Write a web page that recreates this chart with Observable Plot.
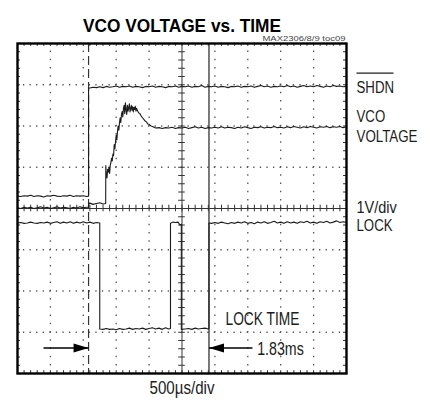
<!DOCTYPE html>
<html>
<head>
<meta charset="utf-8">
<script src="https://cdn.jsdelivr.net/npm/d3@7"></script>
<script src="https://cdn.jsdelivr.net/npm/@observablehq/plot@0.6"></script>
<style>
  html, body { margin: 0; padding: 0; background: white; }
  svg { display: block; }
</style>
</head>
<body>
<div id="chart"></div>
<script>
// ---- Scope settings (time in ms, 0.5 ms/div; 1 V/div) ----
const timeDomain = [0, 5];
const voltDomain = [-4, 4];
const majorX = [0.5, 1, 1.5, 2, 3, 3.5, 4, 4.5];
const majorY = [-3, -2, -1, 1, 2, 3];
const centerX = [2.5];
const centerY = [0];

// ---- Traces: [time ms, volts] ----
const shdnTrace = [[0,.30],[.05,.29],[.10,.31],[.15,.30],[.20,.32],[.25,.29],[.30,.31],[.35,.30],[.40,.28],[.45,.31],[.50,.30],[.55,.32],[.60,.30],[.65,.29],[.70,.31],[.75,.30],[.80,.32],[.85,.29],[.90,.31],[.95,.30],[1.00,.31],[1.05,.29],[1.08,.30],
[1.08,2.92],[1.10,2.92],[1.15,2.94],[1.20,2.93],[1.25,2.95],[1.30,2.93],[1.35,2.96],[1.40,2.94],[1.45,2.95],[1.50,2.97],[1.55,2.94],[1.60,2.96],[1.65,2.95],[1.70,2.97],[1.75,2.94],[1.80,2.96],[1.85,2.95],[1.90,2.93],[1.95,2.96],[2.00,2.95],[2.05,2.97],[2.10,2.94],[2.15,2.96],[2.20,2.95],[2.25,2.93],[2.30,2.96],[2.35,2.95],[2.40,2.97],[2.45,2.94],[2.50,2.96],[2.55,2.95],[2.60,2.97],[2.65,2.94],[2.70,2.96],[2.75,2.95],[2.80,2.98],[2.85,2.94],[2.90,2.96],[2.95,2.95],[3.00,2.97],[3.05,2.94],[3.10,2.96],[3.15,2.95],[3.20,2.93],[3.25,2.96],[3.30,2.95],[3.35,2.97],[3.40,2.94],[3.45,2.96],[3.50,2.95],[3.55,2.97],[3.60,2.94],[3.65,2.96],[3.70,2.98],[3.75,2.95],[3.80,2.97],[3.85,2.94],[3.90,2.96],[3.95,2.95],[4.00,2.97],[4.05,2.95],[4.10,2.98],[4.15,2.95],[4.20,2.97],[4.25,2.94],[4.30,2.96],[4.35,2.98],[4.40,2.95],[4.45,2.97],[4.50,2.95],[4.55,2.98],[4.60,2.96],[4.65,2.94],[4.70,2.97],[4.75,2.95],[4.80,2.98],[4.85,2.96],[4.90,2.97],[4.95,2.95],[5.00,2.96]];

const vcoTrace = [[0,.02],[.05,.00],[.10,.03],[.15,.01],[.20,.03],[.25,.00],[.30,.02],[.35,.04],[.40,.01],[.45,.03],[.50,.00],[.55,.02],[.60,.04],[.65,.01],[.70,.03],[.75,.02],[.80,.00],[.85,.03],[.90,.01],[.95,.04],[1.00,.02],[1.05,.03],[1.08,.03],
[1.08,.12],[1.10,.13],[1.15,.10],[1.20,.12],[1.25,.14],[1.30,.11],[1.34,.12],
[1.342,1.04],[1.35,.80],[1.36,.74],[1.37,.95],[1.38,.88],[1.39,1.00],[1.40,.85],[1.41,1.05],[1.42,1.12],[1.43,1.22],[1.44,1.15],[1.45,1.32],[1.46,1.28],[1.47,1.55],[1.48,1.45],[1.49,1.62],[1.50,1.78],[1.51,1.66],[1.52,1.88],[1.53,2.00],[1.54,1.90],[1.55,2.08],[1.56,2.20],[1.57,2.08],[1.58,2.28],[1.59,2.35],[1.60,2.22],[1.61,2.42],[1.62,2.50],[1.63,2.30],[1.64,2.56],[1.65,2.40],[1.66,2.28],[1.67,2.50],[1.68,2.36],[1.69,2.44],[1.70,2.54],[1.71,2.34],[1.72,2.42],[1.73,2.50],[1.74,2.38],[1.75,2.47],[1.76,2.34],[1.77,2.45],[1.78,2.40],[1.79,2.48],[1.80,2.36],[1.81,2.43],[1.82,2.38],[1.84,2.32],[1.86,2.30],[1.88,2.24],[1.90,2.20],[1.92,2.16],[1.94,2.12],[1.96,2.10],[1.98,2.05],[2.00,2.04],[2.03,2.00],[2.06,1.98],[2.10,1.95],[2.15,1.96],[2.20,1.94],[2.25,1.96],
[2.30,1.95],[2.35,1.97],[2.40,1.94],[2.45,1.96],[2.50,1.95],[2.55,1.97],[2.60,1.94],[2.65,1.96],[2.70,1.98],[2.75,1.95],[2.80,1.97],[2.85,1.94],[2.90,1.96],[2.95,1.95],[3.00,1.97],[3.05,1.95],[3.10,1.98],[3.15,1.95],[3.20,1.97],[3.25,1.96],[3.30,1.94],[3.35,1.97],[3.40,1.95],[3.45,1.98],[3.50,1.96],[3.55,1.94],[3.60,1.97],[3.65,1.96],[3.70,1.98],[3.75,1.95],[3.80,1.97],[3.85,1.96],[3.90,1.99],[3.95,1.96],[4.00,1.97],[4.05,1.95],[4.10,1.98],[4.15,1.96],[4.20,1.99],[4.25,1.97],[4.30,1.95],[4.35,1.98],[4.40,1.96],[4.45,1.99],[4.50,1.97],[4.55,1.95],[4.60,1.98],[4.65,1.97],[4.70,1.99],[4.75,1.96],[4.80,1.98],[4.85,1.97],[4.90,1.99],[4.95,1.96],[5.00,1.98]];

const lockTrace = [[0,-.35],[.05,-.34],[.10,-.36],[.15,-.35],[.20,-.33],[.25,-.35],[.30,-.36],[.35,-.34],[.40,-.35],[.45,-.33],[.50,-.36],[.55,-.34],[.60,-.32],[.65,-.36],[.70,-.33],[.75,-.35],[.80,-.32],[.85,-.36],[.90,-.33],[.95,-.35],[1.00,-.32],[1.05,-.35],[1.10,-.33],[1.15,-.36],[1.20,-.34],[1.25,-.35],
[1.25,-2.92],[1.30,-2.93],[1.35,-2.91],[1.40,-2.93],[1.45,-2.92],[1.50,-2.94],[1.55,-2.91],[1.60,-2.93],[1.65,-2.92],[1.70,-2.90],[1.75,-2.93],[1.80,-2.91],[1.85,-2.92],[1.90,-2.90],[1.95,-2.93],[2.00,-2.91],[2.05,-2.89],[2.10,-2.92],[2.15,-2.90],[2.20,-2.93],[2.25,-2.89],[2.30,-2.92],[2.325,-2.91],
[2.325,-.36],[2.36,-.33],[2.40,-.34],[2.44,-.33],[2.47,-.40],[2.49,-.38],
[2.49,-2.93],[2.55,-2.92],[2.60,-2.91],[2.65,-2.93],[2.70,-2.90],[2.75,-2.92],[2.80,-2.91],[2.85,-2.90],[2.90,-2.92],[2.91,-2.91],
[2.91,-.35],[2.95,-.36],[3.00,-.34],[3.05,-.36],[3.10,-.33],[3.15,-.35],[3.20,-.37],[3.25,-.34],[3.30,-.36],[3.35,-.33],[3.40,-.35],[3.45,-.32],[3.50,-.36],[3.55,-.34],[3.60,-.37],[3.65,-.33],[3.70,-.35],[3.75,-.32],[3.80,-.36],[3.85,-.34],[3.90,-.31],[3.95,-.35],[4.00,-.33],[4.05,-.36],[4.10,-.32],[4.15,-.35],[4.20,-.33],[4.25,-.36],[4.30,-.32],[4.35,-.34],[4.40,-.31],[4.45,-.35],[4.50,-.33],[4.55,-.36],[4.60,-.32],[4.65,-.34],[4.70,-.31],[4.75,-.35],[4.80,-.33],[4.85,-.30],[4.90,-.34],[4.95,-.32],[5.00,-.34]];

// ---- Cursors and annotation ----
const lockStart = 1.08;   // dashed cursor (ms)
const lockEnd = 2.91;     // solid cursor (ms) -> 1.83 ms
const arrowLevel = -3.38;
const arrowTails = [0.395, 3.571];
const traceLabels = [
  {text: "SHDN", v: 2.96},
  {text: "VCO\nVOLTAGE", v: 2.0},
  {text: "1V/div", v: 0.05},
  {text: "LOCK", v: -0.38}
];
const titleText = "VCO VOLTAGE vs. TIME";
const codeText = "MAX2306/8/9 toc09";
const xLabelText = "500µs/div";
const lockTimeText = "LOCK TIME";
const lockTimeValue = "1.83ms";

// condensed (Helvetica Narrow-like) text widths, px
const textWidths = {
  "VCO VOLTAGE vs. TIME": 198, "MAX2306/8/9 toc09": 83, "SHDN": 37.6, "VCO": 28.7,
  "VOLTAGE": 61, "1V/div": 40.3, "LOCK": 36, "LOCK TIME": 74, "1.83ms": 46.6, "500µs/div": 65
};

// graticule minor ticks (1/5 division)
const minorX = d3.range(0, 5.0001, 0.1);
const minorY = d3.range(-4, 4.0001, 0.2);

const headRight = {draw(c) { c.moveTo(0, 0); c.lineTo(-15, -4.5); c.lineTo(-15, 4.5); c.closePath(); }};
const headLeft  = {draw(c) { c.moveTo(0, 0); c.lineTo(15, -4.5); c.lineTo(15, 4.5); c.closePath(); }};

const font = '"Liberation Sans Narrow", "Liberation Sans", Arial, sans-serif';
const ink = "#1c1c1c";
const gridInk = "#555";

const chart = Plot.plot({
  width: 430,
  height: 404,
  marginTop: 43,
  marginLeft: 17,
  marginRight: 84,
  marginBottom: 31,
  x: {domain: timeDomain, axis: null},
  y: {domain: voltDomain, axis: null},
  style: {fontFamily: font, background: "white", color: ink, overflow: "visible"},
  marks: [
    // dotted graticule
    Plot.ruleX(majorX, {stroke: gridInk, strokeWidth: 1.3, strokeDasharray: "1.3,6.95", strokeDashoffset: 0.65}),
    Plot.ruleY(majorY, {stroke: gridInk, strokeWidth: 1.3, strokeDasharray: "1.3,5.28", strokeDashoffset: 0.65}),
    // centre axes with minor ticks
    Plot.ruleX(centerX, {stroke: "#333", strokeWidth: 1}),
    Plot.ruleY(centerY, {stroke: "#333", strokeWidth: 1}),
    Plot.ruleX(minorX, {y1: -0.08, y2: 0.08, stroke: "#333", strokeWidth: 1}),
    Plot.ruleY(minorY, {x1: 2.45, x2: 2.55, stroke: "#333", strokeWidth: 1}),
    // border minor ticks
    Plot.ruleX(minorX, {y1: 4, y2: 3.93, stroke: "#333", strokeWidth: 1}),
    Plot.ruleX(minorX, {y1: -4, y2: -3.93, stroke: "#333", strokeWidth: 1}),
    Plot.ruleY(minorY, {x1: 0, x2: 0.045, stroke: "#333", strokeWidth: 1}),
    Plot.ruleY(minorY, {x1: 5, x2: 4.955, stroke: "#333", strokeWidth: 1}),
    // cursors
    Plot.ruleX([lockStart], {stroke: "#333", strokeWidth: 1.2, strokeDasharray: "9,4"}),
    Plot.ruleX([lockEnd], {stroke: "#333", strokeWidth: 1.3}),
    // traces
    Plot.line(shdnTrace, {x: d => d[0], y: d => d[1], stroke: ink, strokeWidth: 1.1}),
    Plot.line(vcoTrace, {x: d => d[0], y: d => d[1], stroke: ink, strokeWidth: 1.1}),
    Plot.line(lockTrace, {x: d => d[0], y: d => d[1], stroke: ink, strokeWidth: 1.1}),
    Plot.frame({stroke: "#000", strokeWidth: 2.4}),
    // lock-time arrows
    Plot.link([{a: arrowTails[0], b: lockStart}, {a: arrowTails[1], b: lockEnd}], {x1: "a", x2: "b", y1: arrowLevel, y2: arrowLevel, stroke: "#000", strokeWidth: 1.4}),
    Plot.dot([{t: lockStart, v: arrowLevel}], {x: "t", y: "v", symbol: headRight, fill: "#000", stroke: "none", r: 5}),
    Plot.dot([{t: lockEnd, v: arrowLevel}], {x: "t", y: "v", symbol: headLeft, fill: "#000", stroke: "none", r: 5}),
    Plot.text([lockTimeText], {x: 3.161, y: -2.68, text: d => d, textAnchor: "start", fontSize: 17.5, fill: ink}),
    Plot.text([lockTimeValue], {x: 3.643, y: arrowLevel, dy: 1, text: d => d, textAnchor: "start", fontSize: 17.5, fill: ink}),
    // right-hand trace labels
    Plot.text(traceLabels, {x: 5, y: "v", dx: 10, text: "text", textAnchor: "start", fontSize: 16, lineHeight: 1.25, fill: ink}),
    // SHDN overbar
    Plot.link([{a: 5.152, b: 5.714}], {x1: "a", x2: "b", y1: 3.28, y2: 3.28, stroke: ink, strokeWidth: 1.2}),
    // title, code, x label
    Plot.text([titleText], {frameAnchor: "top", dy: -24.6, text: d => d, fontSize: 18, fontWeight: "bold", fill: "#000"}),
    Plot.text([codeText], {frameAnchor: "top-right", dx: -1, dy: -8.5, text: d => d, textAnchor: "end", fontSize: 8, fill: "#444"}),
    Plot.text([xLabelText], {frameAnchor: "bottom", dy: 20, text: d => d, fontSize: 17.5, fill: ink})
  ]
});

// condense the text to the narrow face of the original
chart.querySelectorAll("text, tspan").forEach(el => {
  if (el.tagName === "text" && el.querySelector("tspan")) return;
  const w = textWidths[el.textContent];
  if (w) {
    el.setAttribute("textLength", w);
    el.setAttribute("lengthAdjust", "spacingAndGlyphs");
  }
});

document.getElementById("chart").appendChild(chart);
</script>
</body>
</html>
